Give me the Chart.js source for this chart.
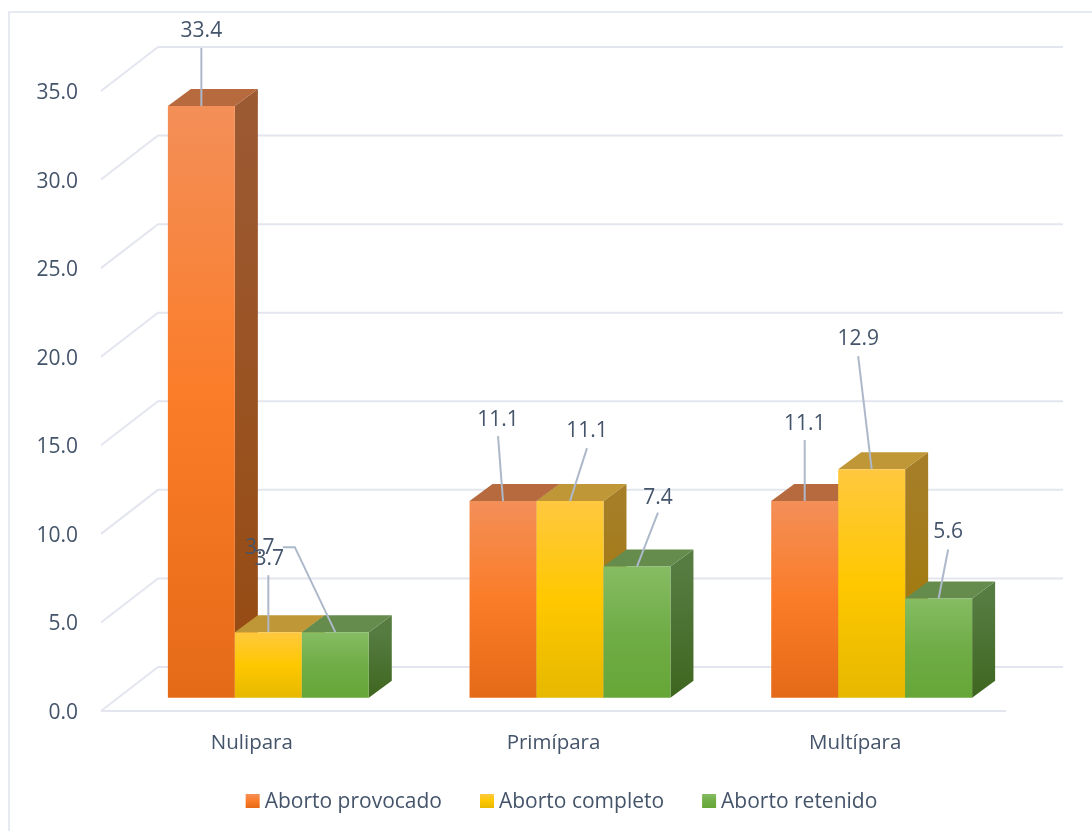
<!DOCTYPE html>
<html>
<head>
<meta charset="utf-8">
<style>
  html, body { margin: 0; padding: 0; background: #fff; }
  canvas { display: block; }
</style>
<script src="https://cdn.jsdelivr.net/npm/chart.js@4/dist/chart.umd.min.js"></script>
</head>
<body>
<canvas id="myChart" width="1092" height="831"></canvas>
<script>
var categories = ['Nulipara', 'Primípara', 'Multípara']
var seriesNames = ['Aborto provocado', 'Aborto completo', 'Aborto retenido']
var provocado = [33.4, 11.1, 11.1]
var completo = [3.7, 11.1, 12.9]
var retenido = [3.7, 7.4, 5.6]

var textColor = '#44546A'
var gridColor = '#E3E6EE'
var leaderColor = '#ADB9CA'
var fontFamily = '"Open Sans", sans-serif'
var fontSize = 21

// front gradient stops, side gradient, top face
var orangeLook = { front: ['#F38F58', '#FB7C28', '#E56A17'], side: ['#9C5A33', '#964A10'], top: '#B66A3E' }
var yellowLook = { front: ['#FFC83F', '#FFC800', '#E6B800'], side: ['#A67E28', '#A07800'], top: '#C09736' }
var greenLook = { front: ['#86BC63', '#70AD47', '#66A637'], side: ['#567C42', '#3F661F'], top: '#658C4D' }
var looks = [orangeLook, yellowLook, greenLook]

// tick text sits a little under its grid line, so the scale is 2px lower than what it draws
var gridShiftY = -2
// the bars stand on a floor behind the axis line
var barShiftX = 16.5
var barShiftY = -15.3
var depthX = 23
var depthY = -17
var wallX = 57
var wallY = -44

// label dx, label dy, leader start dx, leader start dy (from bar top centre)
var labelPlaces = [
  [[0, -75, 0, -58], [-5, -81, -5, -65], [0, -77, 0, -61]],
  [[1, -73, 0, -57], [17, -70, 17, -53], [-13.5, -130, -13.5, -113]],
  [[-75.5, -84, -52.5, -85, -40.5, -85], [21, -69, 21, -54], [9.5, -66, 9.5, -49]]
]

function verticalGradient(ctx, top, bottom, colors) {
  var g = ctx.createLinearGradient(0, top, 0, bottom)
  colors.forEach((c, i) => g.addColorStop(i / (colors.length - 1), c))
  return g
}

function frontFill(look) {
  return (context) => {
    var chart = context.chart
    if (context.type !== 'data' || !chart.chartArea) return look.front[1]
    var y = chart.scales.y
    return verticalGradient(chart.ctx, y.getPixelForValue(context.parsed.y), y.getPixelForValue(0), look.front)
  }
}

function poly(ctx, points, fill) {
  ctx.beginPath()
  points.forEach((p, i) => i ? ctx.lineTo(p[0], p[1]) : ctx.moveTo(p[0], p[1]))
  ctx.closePath()
  ctx.fillStyle = fill
  ctx.fill()
}

var frame3d = {
  id: 'frame3d',
  beforeDraw(chart) {
    var ctx = chart.ctx
    ctx.save()
    ctx.strokeStyle = '#DFE4EC'
    ctx.lineWidth = 1.5
    ctx.beginPath()
    ctx.moveTo(9, 831)
    ctx.lineTo(9, 12)
    ctx.lineTo(1092, 12)
    ctx.stroke()
    ctx.restore()
  },
  beforeDatasetsDraw(chart) {
    var ctx = chart.ctx
    var area = chart.chartArea
    var y = chart.scales.y
    ctx.save()
    ctx.strokeStyle = gridColor
    ctx.lineWidth = 2
    y.ticks.forEach((t) => {
      var py = y.getPixelForValue(t.value) + gridShiftY
      ctx.beginPath()
      ctx.moveTo(area.left, py)
      ctx.lineTo(area.left + wallX, py + wallY)
      ctx.lineTo(area.right + wallX, py + wallY)
      ctx.stroke()
    })
    ctx.beginPath()
    ctx.moveTo(area.left, area.bottom + gridShiftY)
    ctx.lineTo(area.right, area.bottom + gridShiftY)
    ctx.stroke()
    ctx.restore()

    // left to right so that each bar covers the side of the one before
    ctx.save()
    ctx.translate(barShiftX, barShiftY)
    chart.data.datasets.forEach((ds, i) => {
      chart.getDatasetMeta(i).data.forEach((bar) => {
        var left = bar.x - bar.width / 2
        var right = bar.x + bar.width / 2
        var top = bar.y
        var bottom = bar.base
        poly(ctx, [[right, top], [right + depthX, top + depthY], [right + depthX, bottom + depthY], [right, bottom]],
          verticalGradient(ctx, top, bottom, looks[i].side))
        poly(ctx, [[left, top], [left + depthX, top + depthY], [right + depthX, top + depthY], [right, top]], looks[i].top)
        bar.draw(ctx)
      })
    })
    ctx.restore()
  },
  beforeDatasetDraw() {
    return false
  },
  afterDatasetsDraw(chart) {
    var ctx = chart.ctx
    ctx.save()
    ctx.font = fontSize + 'px ' + fontFamily
    ctx.textAlign = 'center'
    ctx.textBaseline = 'middle'
    chart.data.datasets.forEach((ds, i) => {
      chart.getDatasetMeta(i).data.forEach((bar, j) => {
        var place = labelPlaces[i][j]
        var ax = bar.x + barShiftX
        var ay = bar.y + barShiftY
        ctx.beginPath()
        ctx.moveTo(ax + place[2], ay + place[3])
        if (place.length > 4) ctx.lineTo(ax + place[4], ay + place[5])
        ctx.lineTo(ax, ay)
        ctx.strokeStyle = leaderColor
        ctx.lineWidth = 2
        ctx.stroke()
        ctx.fillStyle = textColor
        ctx.fillText(ds.data[j].toFixed(1), ax + place[0], ay + place[1])
      })
    })
    // legend
    ctx.textAlign = 'left'
    var boxSize = 14
    var textGap = 5
    var itemGap = 38
    var widths = seriesNames.map((n) => boxSize + textGap + ctx.measureText(n).width)
    var total = widths.reduce((a, b) => a + b, 0) + itemGap * (seriesNames.length - 1)
    var x = 561.5 - total / 2
    var legendY = 801
    seriesNames.forEach((n, i) => {
      ctx.fillStyle = verticalGradient(ctx, legendY - boxSize / 2, legendY + boxSize / 2, looks[i].front)
      ctx.fillRect(x, legendY - boxSize / 2, boxSize, boxSize)
      ctx.fillStyle = textColor
      ctx.fillText(n, x + boxSize + textGap, legendY + 1)
      x += widths[i] + itemGap
    })
    ctx.restore()
  }
}

var ctx = document.getElementById('myChart').getContext('2d')
var chart = new Chart(ctx, {
  type: 'bar',
  data: {
    labels: categories,
    datasets: [
      { label: seriesNames[0], data: provocado, backgroundColor: frontFill(orangeLook) },
      { label: seriesNames[1], data: completo, backgroundColor: frontFill(yellowLook) },
      { label: seriesNames[2], data: retenido, backgroundColor: frontFill(greenLook) }
    ]
  },
  options: {
    responsive: false,
    animation: false,
    layout: { padding: { top: 93, right: 86, left: 0, bottom: 0 } },
    datasets: { bar: { categoryPercentage: 0.666, barPercentage: 1, borderWidth: 0 } },
    plugins: { legend: { display: false }, tooltip: { enabled: false } },
    scales: {
      x: {
        grid: { display: false, drawTicks: false },
        border: { display: false },
        afterFit: (scale) => { scale.height = 118 },
        ticks: { color: textColor, font: { family: fontFamily, size: 20.5 }, padding: 18, maxRotation: 0 }
      },
      y: {
        min: 0,
        max: 35,
        afterFit: (scale) => { scale.width = 101 },
        grid: { display: false, drawTicks: false },
        border: { display: false },
        ticks: {
          stepSize: 5,
          color: textColor,
          font: { family: fontFamily, size: fontSize },
          padding: 23,
          callback: (v) => v.toFixed(1)
        }
      }
    }
  },
  plugins: [frame3d]
})
</script>
</body>
</html>
